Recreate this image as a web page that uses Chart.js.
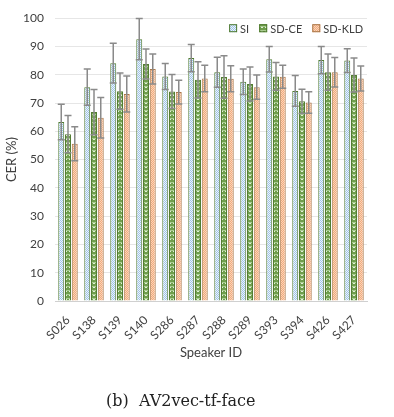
<!doctype html>
<html>
<head>
	<title>CER per speaker</title>
	<script src="https://cdn.jsdelivr.net/npm/chart.js@4/dist/chart.umd.min.js"></script>
	<style>
		body { margin: 0; background: #fff; }
		#wrap { position: relative; width: 394px; height: 417px; }
		#caption {
			position: absolute; left: 106px; top: 391px;
			font-family: 'DejaVu Serif', serif; font-size: 16px; color: #222;
			white-space: pre;
		}
	</style>
</head>
<body>
	<div id="wrap">
		<canvas id="canvas" width="394" height="417"></canvas>
		<div id="caption">(b)  AV2vec-tf-face</div>
	</div>
	<script>
		const speakers = ['S026', 'S138', 'S139', 'S140', 'S286', 'S287', 'S288', 'S289', 'S393', 'S394', 'S426', 'S427'];
		const siValues = [63.3, 75.6, 84.1, 92.6, 79.4, 85.9, 80.9, 77.5, 85.5, 74.3, 85.2, 85.0];
		const sdceValues = [59.0, 66.8, 74.2, 83.8, 74.1, 78.2, 79.2, 76.7, 79.4, 70.6, 80.9, 79.9];
		const sdkldValues = [55.6, 64.8, 73.2, 82.0, 73.9, 78.7, 78.6, 75.6, 79.3, 70.2, 80.9, 78.7];
		const siErrors = [6.3, 6.4, 7.0, 7.3, 4.6, 4.8, 5.3, 4.5, 4.5, 5.4, 4.8, 4.2];
		const sdceErrors = [6.6, 8.0, 6.4, 5.3, 6.0, 6.4, 7.5, 6.0, 4.9, 4.3, 6.4, 6.0];
		const sdkldErrors = [6.0, 7.2, 6.4, 5.3, 4.2, 4.7, 4.6, 4.3, 4.1, 3.8, 5.2, 4.4];

		// small fill patterns like the excel bars
		function makePattern(size, paint) {
			const c = document.createElement('canvas');
			c.width = size;
			c.height = size;
			paint(c.getContext('2d'));
			return c.getContext('2d').createPattern(c, 'repeat');
		}
		const siFill = makePattern(2, (g) => {
			g.fillStyle = '#eef4fb'; g.fillRect(0, 0, 2, 2);
			g.fillStyle = '#9dc3e6'; g.fillRect(0, 0, 1, 1); g.fillRect(1, 1, 1, 1);
		});
		const sdceFill = makePattern(4, (g) => {
			g.fillStyle = '#6f9e4c'; g.fillRect(0, 0, 4, 4);
			g.fillStyle = '#a9cc90'; g.fillRect(0, 2, 4, 1);
			g.fillStyle = '#e2efd9'; g.fillRect(1, 3, 2, 1);
		});
		const sdkldFill = makePattern(2, (g) => {
			g.fillStyle = '#f2ab7c'; g.fillRect(0, 0, 2, 2);
			g.fillStyle = '#f9d4ba'; g.fillRect(0, 0, 1, 1); g.fillRect(1, 1, 1, 1);
		});

		const errorBars = {
			id: 'errorBars',
			afterDatasetsDraw(chart) {
				const ctx = chart.ctx;
				const y = chart.scales.y;
				ctx.save();
				ctx.strokeStyle = '#8a8a8a';
				ctx.lineWidth = 1.5;
				chart.data.datasets.forEach((ds, i) => {
					const meta = chart.getDatasetMeta(i);
					meta.data.forEach((bar, j) => {
						const v = ds.data[j];
						const e = ds.errors[j];
						const top = y.getPixelForValue(v + e);
						const bot = y.getPixelForValue(v - e);
						ctx.beginPath();
						ctx.moveTo(bar.x, top);
						ctx.lineTo(bar.x, bot);
						ctx.moveTo(bar.x - 3.5, top);
						ctx.lineTo(bar.x + 3.5, top);
						ctx.moveTo(bar.x - 3.5, bot);
						ctx.lineTo(bar.x + 3.5, bot);
						ctx.stroke();
					});
				});
				ctx.restore();
			}
		};

		const font = 'Lato, "Open Sans", sans-serif';

		// legend drawn inside the plot, top right, like the excel one
		const cornerLegend = {
			id: 'cornerLegend',
			afterDraw(chart) {
				const ctx = chart.ctx;
				const area = chart.chartArea;
				ctx.save();
				ctx.font = '11px ' + font;
				ctx.textBaseline = 'middle';
				const items = chart.data.datasets.map((ds) => ({ ds, w: ctx.measureText(ds.label).width }));
				let total = 0;
				items.forEach((it, i) => { total += 8 + 3 + it.w + (i ? 10 : 0); });
				let x = area.right - 4 - total;
				const cy = area.top + 10;
				items.forEach((it) => {
					ctx.fillStyle = it.ds.backgroundColor;
					ctx.fillRect(x, cy - 4, 8, 8);
					ctx.strokeStyle = it.ds.borderColor;
					ctx.lineWidth = 1;
					ctx.strokeRect(x + 0.5, cy - 3.5, 7, 7);
					ctx.fillStyle = '#404040';
					ctx.fillText(it.ds.label, x + 11, cy + 1);
					x += 8 + 3 + it.w + 10;
				});
				ctx.restore();
			}
		};

		new Chart(document.getElementById('canvas'), {
			type: 'bar',
			data: {
				labels: speakers,
				datasets: [{
					label: 'SI',
					data: siValues,
					errors: siErrors,
					backgroundColor: siFill,
					borderColor: '#4f7a2e',
					borderWidth: 1
				}, {
					label: 'SD-CE',
					data: sdceValues,
					errors: sdceErrors,
					backgroundColor: sdceFill,
					borderColor: '#4f7a2e',
					borderWidth: 1
				}, {
					label: 'SD-KLD',
					data: sdkldValues,
					errors: sdkldErrors,
					backgroundColor: sdkldFill,
					borderColor: '#a8774a',
					borderWidth: 1
				}]
			},
			options: {
				responsive: false,
				animation: false,
				layout: {
					padding: { top: 18, right: 27, bottom: 56, left: 0 }
				},
				datasets: {
					bar: { categoryPercentage: 0.78, barPercentage: 0.88 }
				},
				scales: {
					x: {
						grid: { display: false },
						border: { display: true, color: '#d0d0d0' },
						ticks: {
							minRotation: 45, maxRotation: 45, padding: 4,
							color: '#404040', font: { family: font, size: 12 }
						},
						title: {
							display: true, text: 'Speaker ID', color: '#404040',
							font: { family: font, size: 13 }, padding: 0
						},
						afterFit(scale) { scale.height = 60; }
					},
					y: {
						min: 0,
						max: 100,
						grid: { color: '#e6e6e6', drawTicks: false },
						border: { display: false },
						ticks: {
							stepSize: 10, padding: 11,
							color: '#404040', font: { family: font, size: 12 }
						},
						title: {
							display: true, text: 'CER (%)', color: '#404040',
							font: { family: font, size: 13 }, padding: { top: 4, bottom: 0 }
						},
						afterFit(scale) { scale.width = 55; }
					}
				},
				plugins: {
					legend: { display: false },
					tooltip: { enabled: false }
				}
			},
			plugins: [errorBars, cornerLegend]
		});
	</script>
</body>
</html>
